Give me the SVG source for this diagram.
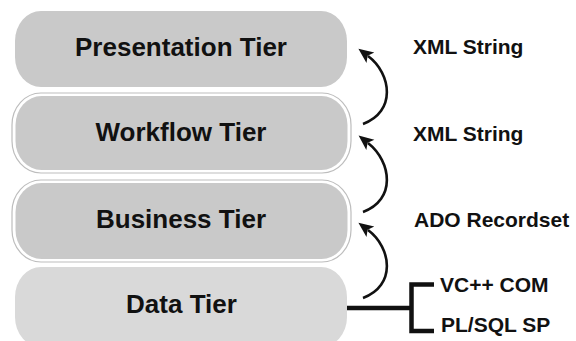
<svg xmlns="http://www.w3.org/2000/svg" width="576" height="341" viewBox="0 0 576 341">
  <style>
    .tier { fill: #c9c9c9; }
    .tier-light { fill: #d9d9d9; }
    .ring { fill: #ffffff; stroke: #bdbdbd; stroke-width: 1.2; }
    .tier-label { font-family: "Liberation Sans", Arial, sans-serif; font-weight: bold; font-size: 26px; fill: #111111; text-anchor: middle; }
    .flow-label { font-family: "Liberation Sans", Arial, sans-serif; font-weight: bold; font-size: 21px; fill: #111111; }
    .flow { fill: none; stroke: #111111; stroke-width: 2.6; marker-end: url(#head); }
    .bus { fill: none; stroke: #111111; stroke-width: 4.5; stroke-linecap: butt; stroke-linejoin: miter; }
  </style>
  <defs>
    <marker id="head" markerUnits="userSpaceOnUse" viewBox="0 0 16 16" markerWidth="16" markerHeight="16" refX="3" refY="8" orient="auto">
      <path d="M0,1.5 L15,8 L0,14.5 L3.5,8 z" fill="#111111"/>
    </marker>
  </defs>

  <g id="presentation-tier">
    <rect class="tier" x="15" y="11" width="332" height="76" rx="26" ry="30"/>
    <text class="tier-label" x="181" y="56">Presentation Tier</text>
  </g>

  <g id="workflow-tier">
    <rect class="ring" x="12" y="93" width="339" height="80" rx="29" ry="32"/>
    <rect class="tier" x="15.5" y="96" width="332" height="74" rx="26" ry="29"/>
    <text class="tier-label" x="181" y="141">Workflow Tier</text>
  </g>

  <g id="business-tier">
    <rect class="ring" x="12" y="180" width="339" height="82" rx="29" ry="32"/>
    <rect class="tier" x="15.5" y="183" width="332" height="76" rx="26" ry="29"/>
    <text class="tier-label" x="181" y="228">Business Tier</text>
  </g>

  <g id="data-tier">
    <rect class="tier-light" x="15" y="267" width="332" height="80" rx="26" ry="30"/>
    <text class="tier-label" x="181.5" y="313">Data Tier</text>
  </g>

  <g id="connectors">
    <path class="flow" d="M363,124 C396,112 392,74 368,56"/>
    <path class="flow" d="M363,212 C396,200 392,162 368,143"/>
    <path class="flow" d="M363,298 C396,286 392,248 368,230"/>
    <path class="bus" d="M347,308 L412,308"/>
    <path class="bus" d="M434,284.5 L411.5,284.5 L411.5,331 L434,331"/>
  </g>

  <g id="labels">
    <text class="flow-label" x="413" y="54">XML String</text>
    <text class="flow-label" x="413" y="141">XML String</text>
    <text class="flow-label" x="414" y="227">ADO Recordset</text>
    <text class="flow-label" x="440" y="292">VC++ COM</text>
    <text class="flow-label" x="441" y="332">PL/SQL SP</text>
  </g>
</svg>
